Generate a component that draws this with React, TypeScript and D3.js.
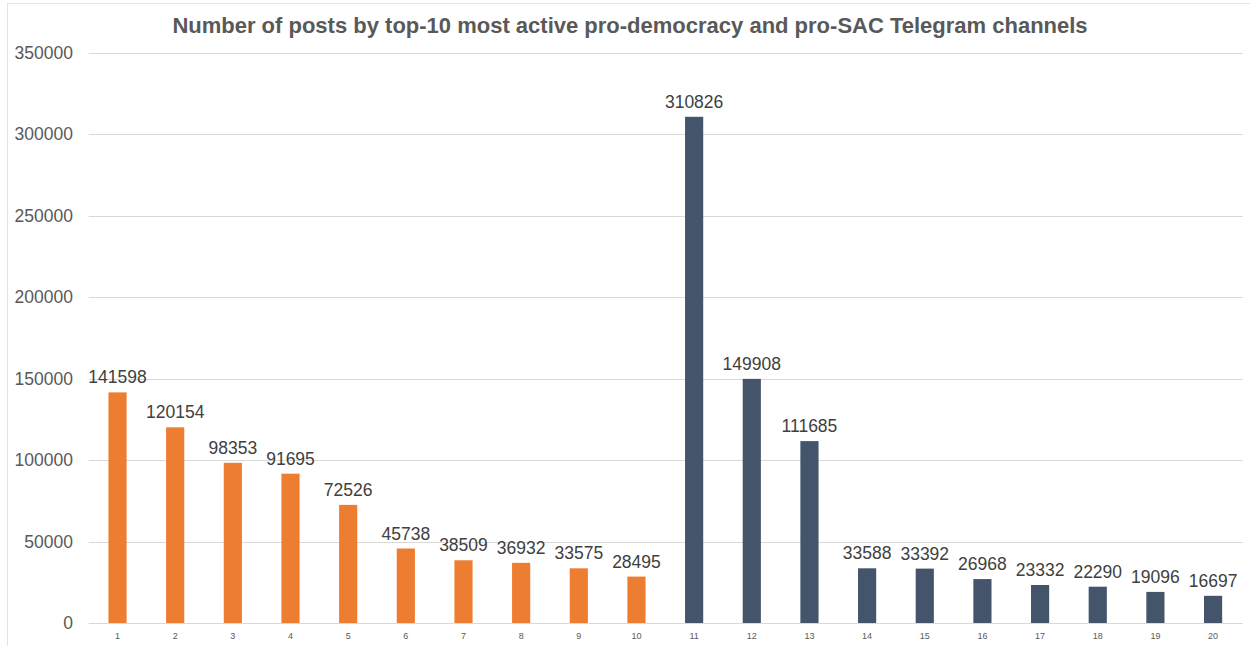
import React from "react";
import * as d3 from "d3";

const channels: string[] = [
  "1", "2", "3", "4", "5", "6", "7", "8", "9", "10",
  "11", "12", "13", "14", "15", "16", "17", "18", "19", "20",
];
const posts: number[] = [
  141598, 120154, 98353, 91695, 72526, 45738, 38509, 36932, 33575, 28495,
  310826, 149908, 111685, 33588, 33392, 26968, 23332, 22290, 19096, 16697,
];
const yTicks: number[] = [0, 50000, 100000, 150000, 200000, 250000, 300000, 350000];
const proDemocracyCount = 10;

const title = "Number of posts by top-10 most active pro-democracy and pro-SAC Telegram channels";

const W = 1250;
const H = 646;
const margin = { left: 88.7, right: 8.1, top: 53, bottom: 23 };

export default function App() {
  const x = d3
    .scaleBand<string>()
    .domain(channels)
    .range([margin.left, W - margin.right])
    .paddingInner(0.685)
    .paddingOuter(0.3425);
  const y = d3.scaleLinear().domain([0, 350000]).range([H - margin.bottom, margin.top]);
  const font = "'Liberation Sans', Arial, sans-serif";

  return (
    <svg
      width={W}
      height={H}
      style={{ position: "absolute", left: 0, top: 0, background: "#fff" }}
      fontFamily={font}
    >
      {/* frame */}
      <line x1={7} x2={W} y1={3.5} y2={3.5} stroke="#e3e3e3" />
      <line x1={7.5} x2={7.5} y1={3} y2={H} stroke="#e3e3e3" />

      <text
        x={630}
        y={33}
        textAnchor="middle"
        fontSize={22}
        fontWeight="bold"
        fill="#595959"
      >
        {title}
      </text>

      {yTicks.map((t) => (
        <g key={t}>
          <line
            x1={margin.left}
            x2={W - margin.right + 1}
            y1={Math.round(y(t)) + 0.5}
            y2={Math.round(y(t)) + 0.5}
            stroke="#d9d9d9"
            strokeWidth={1}
          />
          <text
            x={73}
            y={y(t) + 6}
            textAnchor="end"
            fontSize={17.5}
            fill="#595959"
          >
            {t}
          </text>
        </g>
      ))}

      {channels.map((c, i) => {
        const v = posts[i];
        const bx = x(c)!;
        const bw = x.bandwidth();
        const cx = bx + bw / 2;
        return (
          <g key={c}>
            <rect
              x={bx}
              y={y(v)}
              width={bw}
              height={y(0) - y(v)}
              fill={i < proDemocracyCount ? "#ED7D31" : "#44546A"}
            />
            <text
              x={cx}
              y={y(v) - 9}
              textAnchor="middle"
              fontSize={17.5}
              fill="#404040"
            >
              {v}
            </text>
            <text
              x={cx}
              y={639}
              textAnchor="middle"
              fontSize={9}
              fill="#595959"
            >
              {c}
            </text>
          </g>
        );
      })}
    </svg>
  );
}
